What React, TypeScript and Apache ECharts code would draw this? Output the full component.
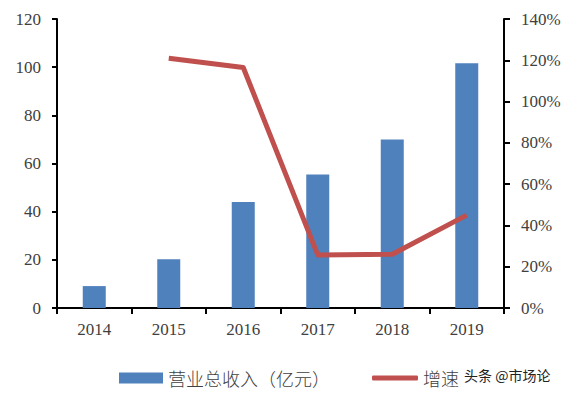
import React, { useEffect, useRef } from "react";
import * as echarts from "echarts";

const years = ["2014", "2015", "2016", "2017", "2018", "2019"];
const revenue = [9.1, 20.2, 44, 55.4, 70, 101.6];
const growth: (number | null)[] = [null, 121, 116.5, 25.7, 26, 45];
const leftTicks = { min: 0, max: 120, interval: 20 };
const rightTicks = { min: 0, max: 140, interval: 20 };
const revenueName = "营业总收入（亿元）";
const growthName = "增速";
const watermark = "头条 @市场论";

export default function App() {
  const ref = useRef<HTMLDivElement>(null);
  useEffect(() => {
    if (!ref.current) return;
    const chart = echarts.init(ref.current, undefined, { renderer: "svg" });
    const serif = "'Liberation Serif', 'Times New Roman', serif";
    const axisLabel = { color: "#404040", fontFamily: serif, fontSize: 17 };
    const legendText = { color: "#404040", fontFamily: "'Noto Sans CJK SC'", fontSize: 18, fontWeight: 300 };
    chart.setOption({
      animation: false,
      backgroundColor: "#fff",
      grid: { left: 57, right: 81, top: 19, bottom: 91 },
      legend: [
        {
          left: 114,
          top: 364,
          itemWidth: 44,
          itemHeight: 11,
          textStyle: legendText,
          data: [{ name: revenueName, icon: "rect" }],
        },
        {
          left: 367,
          top: 364,
          itemWidth: 46,
          itemHeight: 5,
          textStyle: legendText,
          data: [{ name: growthName, icon: "roundRect" }],
        },
      ],
      xAxis: {
        type: "category",
        data: years,
        axisLine: { show: true, lineStyle: { color: "#000", width: 2 } },
        axisTick: { show: true, length: 6, lineStyle: { color: "#000", width: 2 } },
        axisLabel: { ...axisLabel, margin: 13 },
      },
      yAxis: [
        {
          type: "value",
          ...leftTicks,
          axisLine: { show: true, lineStyle: { color: "#000", width: 2 } },
          axisTick: { show: true, length: 5, lineStyle: { color: "#000", width: 2 } },
          splitLine: { show: false },
          axisLabel: { ...axisLabel, margin: 16 },
        },
        {
          type: "value",
          ...rightTicks,
          position: "right",
          axisLine: { show: true, lineStyle: { color: "#000", width: 2 } },
          axisTick: { show: true, length: 6, lineStyle: { color: "#000", width: 2 } },
          splitLine: { show: false },
          axisLabel: { ...axisLabel, margin: 17, formatter: "{value}%" },
        },
      ],
      series: [
        {
          name: revenueName,
          type: "bar",
          data: revenue,
          barWidth: 23,
          itemStyle: { color: "#4F81BD" },
        },
        {
          name: growthName,
          type: "line",
          yAxisIndex: 1,
          data: growth,
          symbol: "none",
          lineStyle: { color: "#C0504D", width: 5, join: "round" },
          itemStyle: { color: "#C0504D" },
        },
      ],
      graphic: [
        {
          type: "text",
          left: 464,
          top: 368,
          style: {
            text: watermark,
            fill: "#222",
            font: "14px 'Noto Sans CJK SC'",
          },
        },
      ],
    });
    return () => chart.dispose();
  }, []);
  return (
    <div
      ref={ref}
      style={{ position: "fixed", left: 0, top: 0, width: 585, height: 399 }}
    />
  );
}
